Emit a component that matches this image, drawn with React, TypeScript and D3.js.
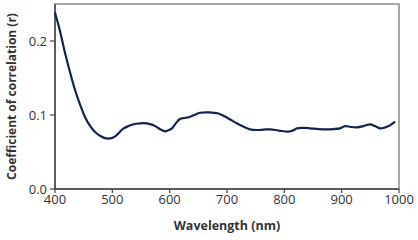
import React from "react";
import * as d3 from "d3";

const wavelengths = [400, 409, 417, 426, 435, 444, 452, 461, 467, 473, 480, 487, 493, 499, 505, 510, 519, 528, 537, 548, 560, 569, 577, 585, 592, 598, 604, 611, 618, 626, 633, 643, 653, 669, 685, 701, 717, 729, 740, 752, 764, 775, 790, 807, 815, 822, 834, 845, 860, 874, 886, 897, 906, 916, 927, 938, 950, 958, 967, 975, 982, 988, 993];
const correlation = [0.2385, 0.2126, 0.1855, 0.1585, 0.1338, 0.1135, 0.0977, 0.0855, 0.0795, 0.075, 0.0712, 0.0688, 0.0682, 0.0688, 0.071, 0.0748, 0.0815, 0.085, 0.0875, 0.0888, 0.0888, 0.087, 0.084, 0.080, 0.078, 0.0795, 0.082, 0.089, 0.0945, 0.096, 0.097, 0.100, 0.103, 0.1035, 0.102, 0.096, 0.0888, 0.084, 0.0806, 0.0797, 0.0803, 0.0806, 0.079, 0.0775, 0.079, 0.082, 0.0825, 0.082, 0.081, 0.0806, 0.081, 0.082, 0.085, 0.0838, 0.0834, 0.085, 0.0874, 0.085, 0.082, 0.083, 0.085, 0.088, 0.091];
const xTicks = [400, 500, 600, 700, 800, 900, 1000];
const yTicks = [0.0, 0.1, 0.2];

export default function App() {
  const W = 418, H = 240;
  const left = 55, right = 399, top = 4, bottom = 189;
  const x = d3.scaleLinear().domain([400, 1000]).range([left, right]);
  const y = d3.scaleLinear().domain([0, 0.25]).range([bottom, top]);
  const data = wavelengths.map((w, i) => [w, correlation[i]] as [number, number]);
  const line = d3.line<[number, number]>().x(d => x(d[0])).y(d => y(d[1])).curve(d3.curveCatmullRom.alpha(0.5));
  const font = "'Open Sans', 'Liberation Sans', sans-serif";
  const textColor = "#333";
  return (
    <svg width={W} height={H} style={{ position: "absolute", left: 0, top: 0, background: "#fff" }} fontFamily={font}>
      <rect x={left} y={top} width={right - left} height={bottom - top} fill="none" stroke="#8a8a8a" strokeWidth={1.5} />
      <line x1={left} x2={left} y1={top} y2={bottom + 0.5} stroke="#444" strokeWidth={1.5} />
      <line x1={left} x2={right} y1={bottom} y2={bottom} stroke="#444" strokeWidth={1.5} />
      {xTicks.map(t => (
        <g key={t}>
          <line x1={x(t)} x2={x(t)} y1={bottom} y2={bottom + 4} stroke="#444" strokeWidth={1.2} />
          <text x={x(t)} y={204} textAnchor="middle" fontSize={13} fill={textColor}>{t}</text>
        </g>
      ))}
      {yTicks.map(t => (
        <g key={t}>
          <line x1={left - 5} x2={left} y1={y(t)} y2={y(t)} stroke="#444" strokeWidth={1.2} />
          <text x={47} y={y(t) + 4.5} textAnchor="end" fontSize={13} fill={textColor}>{t.toFixed(1)}</text>
        </g>
      ))}
      <path d={line(data) || ""} fill="none" stroke="#15244d" strokeWidth={2.2} strokeLinejoin="round" />
      <text x={(left + right) / 2} y={230} textAnchor="middle" fontSize={12.5} fontWeight="bold" fill={textColor}>Wavelength (nm)</text>
      <text transform={`translate(16,${(top + bottom) / 2}) rotate(-90)`} textAnchor="middle" fontSize={12} fontWeight="bold" fill={textColor}>Coefficient of correlation (r)</text>
    </svg>
  );
}
